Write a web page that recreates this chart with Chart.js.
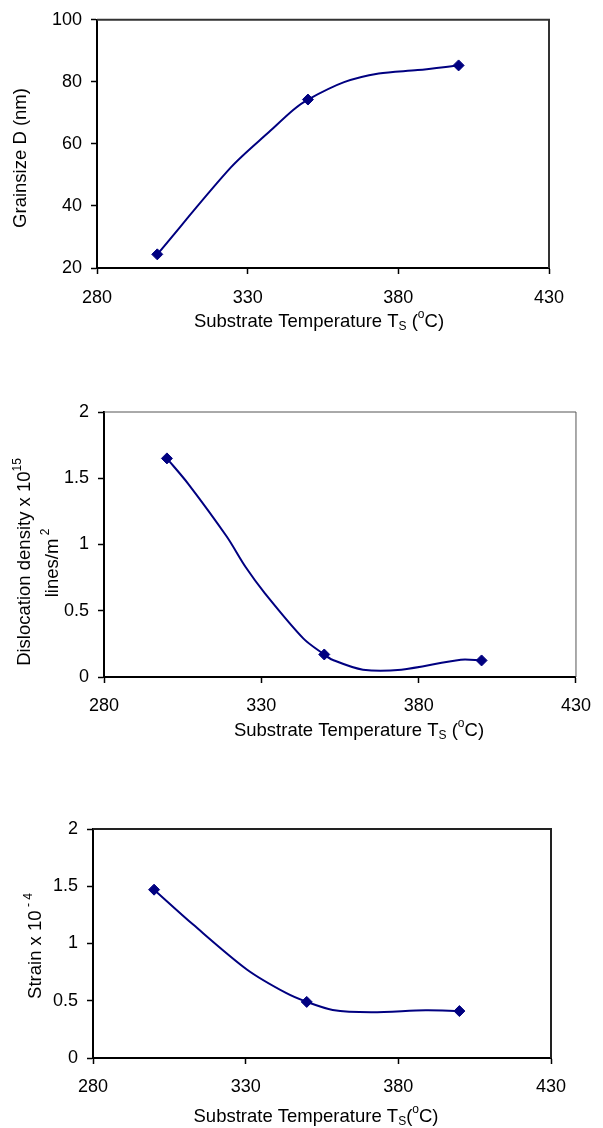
<!DOCTYPE html>
<html>
<head>
<meta charset="utf-8">
<script src="https://cdn.jsdelivr.net/npm/chart.js@4.4.0/dist/chart.umd.min.js"></script>
<style>
    body { margin: 0; background: #fff; }
    .box { position: absolute; left: 0; width: 603px; }
    canvas { display: block; }
</style>
</head>
<body>
<div class="box" style="top:0px"><canvas id="grafico1" width="603" height="345"></canvas></div>
<div class="box" style="top:390px"><canvas id="grafico2" width="603" height="360"></canvas></div>
<div class="box" style="top:800px"><canvas id="grafico3" width="603" height="328"></canvas></div>
<script>
// measured points
var temperature = [300, 350, 400];
var grainSize = [24.4, 74.3, 85.3];
var dislocation = [1.65, 0.17, 0.125];
var strain = [1.47, 0.49, 0.41];

// the smoothed curves as they are drawn in the figure
var grainCurveT = [300, 324.5, 337.6, 345.3, 350, 362, 373.5, 386.4, 400];
var grainCurveD = [24.4, 52.5, 64.3, 71.1, 74.3, 79.9, 82.7, 83.8, 85.3];
var dislCurveT = [300, 306.7, 319, 325, 331.2, 343.4, 350, 352.6, 362.3, 374.5, 393.4, 400];
var dislCurveV = [1.65, 1.46, 1.06, 0.83, 0.63, 0.29, 0.17, 0.13, 0.055, 0.055, 0.13, 0.125];
var strainCurveT = [300, 312.8, 330.5, 343.2, 350, 358.5, 371.1, 389, 400];
var strainCurveV = [1.47, 1.165, 0.771, 0.568, 0.49, 0.42, 0.40, 0.416, 0.41];

// tick labels
var xTicks = [280, 330, 380, 430];
var grainTicks = [20, 40, 60, 80, 100];
var dislTicks = [0, 0.5, 1, 1.5, 2];
var strainTicks = [0, 0.5, 1, 1.5, 2];

var FONT = "'Liberation Sans', Arial, sans-serif";
var NAVY = '#000080';

function toPoints(xs, ys) {
    var out = [];
    for (var i = 0; i < xs.length; i++) {
        out.push({ x: xs[i], y: ys[i] });
    }
    return out;
}

// draws a text made of pieces, some of them sub- or superscript
function drawRich(ctx, parts, cx, cy, rotate) {
    ctx.save();
    ctx.translate(cx, cy);
    if (rotate) ctx.rotate(-Math.PI / 2);
    var total = 0;
    parts.forEach(function (p) {
        ctx.font = (p.sub || p.sup ? 12 : 18.5) + 'px ' + FONT;
        p.w = ctx.measureText(p.t).width;
        total += p.w;
    });
    var x = -total / 2;
    ctx.textBaseline = 'middle';
    ctx.textAlign = 'left';
    ctx.fillStyle = '#000';
    parts.forEach(function (p) {
        ctx.font = (p.sub || p.sup ? 12 : 18.5) + 'px ' + FONT;
        var dy = p.sub ? 5 : (p.sup ? -7 : 0);
        ctx.fillText(p.t, x, dy);
        x += p.w;
    });
    ctx.restore();
}

var framePlugin = {
    id: 'frame',
    afterDraw: function (chart) {
        var o = chart.options.plugins.frame;
        var a = chart.chartArea;
        var ctx = chart.ctx;
        ctx.save();
        ctx.strokeStyle = o.color;
        ctx.lineWidth = o.width;
        ctx.beginPath();
        ctx.moveTo(a.left, a.top);
        ctx.lineTo(a.right, a.top);
        ctx.lineTo(a.right, a.bottom);
        ctx.stroke();
        ctx.restore();
        o.titles.forEach(function (t) {
            drawRich(ctx, t.parts, t.x, t.y, t.rotate);
        });
    }
};

function creaGrafico(id, cfg) {
    var canvas = document.getElementById(id);
    var h = canvas.height;
    return new Chart(canvas, {
        type: 'scatter',
        data: {
            datasets: [{
                data: toPoints(cfg.curveX, cfg.curveY),
                showLine: true,
                borderColor: NAVY,
                borderWidth: 2,
                pointRadius: 0,
                tension: 0.3,
                fill: false
            }, {
                data: toPoints(temperature, cfg.values),
                showLine: false,
                pointStyle: 'rectRot',
                pointRadius: 5.5,
                backgroundColor: NAVY,
                borderColor: NAVY,
                borderWidth: 1
            }]
        },
        options: {
            responsive: false,
            animation: false,
            events: [],
            layout: {
                padding: { left: 0, right: 603 - cfg.plot.right, top: cfg.plot.top, bottom: 0 }
            },
            plugins: {
                legend: { display: false },
                tooltip: { enabled: false },
                frame: { color: cfg.frameColor, width: cfg.frameWidth, titles: cfg.titles }
            },
            scales: {
                x: {
                    type: 'linear',
                    min: xTicks[0],
                    max: xTicks[xTicks.length - 1],
                    afterFit: function (s) { s.height = h - cfg.plot.bottom; },
                    ticks: {
                        stepSize: xTicks[1] - xTicks[0],
                        padding: cfg.xPad,
                        color: '#000',
                        font: { family: FONT, size: 18 },
                        maxRotation: 0,
                        callback: function (v) { return String(v); }
                    },
                    grid: { drawOnChartArea: false, tickLength: 6, tickColor: '#000', tickWidth: 1.5 },
                    border: { color: '#000', width: 2 }
                },
                y: {
                    type: 'linear',
                    min: cfg.yTicks[0],
                    max: cfg.yTicks[cfg.yTicks.length - 1],
                    afterFit: function (s) { s.width = cfg.plot.left; },
                    ticks: {
                        stepSize: cfg.yTicks[1] - cfg.yTicks[0],
                        padding: 9,
                        color: '#000',
                        font: { family: FONT, size: 18 },
                        callback: function (v) { return String(v); }
                    },
                    grid: { drawOnChartArea: false, tickLength: 6, tickColor: '#000', tickWidth: 1.5 },
                    border: { color: '#000', width: 2 }
                }
            }
        },
        plugins: [framePlugin]
    });
}

creaGrafico('grafico1', {
    values: grainSize, curveX: grainCurveT, curveY: grainCurveD, yTicks: grainTicks,
    plot: { left: 97, right: 549, top: 15, bottom: 268 },
    xPad: 13, frameColor: '#333', frameWidth: 2,
    titles: [
        { parts: [{ t: 'Substrate Temperature T' }, { t: 'S', sub: 1 }, { t: ' (' }, { t: 'o', sup: 1 }, { t: 'C)' }], x: 319, y: 322 },
        { parts: [{ t: 'Grainsize D (nm)' }], x: 21, y: 158, rotate: true }
    ]
});

creaGrafico('grafico2', {
    values: dislocation, curveX: dislCurveT, curveY: dislCurveV, yTicks: dislTicks,
    plot: { left: 104, right: 580, top: 22, bottom: 287 },
    xPad: 12, frameColor: '#555', frameWidth: 1,
    titles: [
        { parts: [{ t: 'Substrate Temperature T' }, { t: 'S', sub: 1 }, { t: ' (' }, { t: 'o', sup: 1 }, { t: 'C)' }], x: 359, y: 341 },
        { parts: [{ t: 'Dislocation density x 10' }, { t: '15', sup: 1 }], x: 25, y: 172, rotate: true },
        { parts: [{ t: 'lines/m' }, { t: ' 2', sup: 1 }], x: 53, y: 173, rotate: true }
    ]
});

creaGrafico('grafico3', {
    values: strain, curveX: strainCurveT, curveY: strainCurveV, yTicks: strainTicks,
    plot: { left: 93, right: 551, top: 29, bottom: 258 },
    xPad: 12, frameColor: '#222', frameWidth: 2,
    titles: [
        { parts: [{ t: 'Substrate Temperature T' }, { t: 'S', sub: 1 }, { t: '(' }, { t: 'o', sup: 1 }, { t: 'C)' }], x: 316, y: 317 },
        { parts: [{ t: 'Strain x 10' }, { t: ' - 4', sup: 1 }], x: 36, y: 146, rotate: true }
    ]
});
</script>
</body>
</html>
